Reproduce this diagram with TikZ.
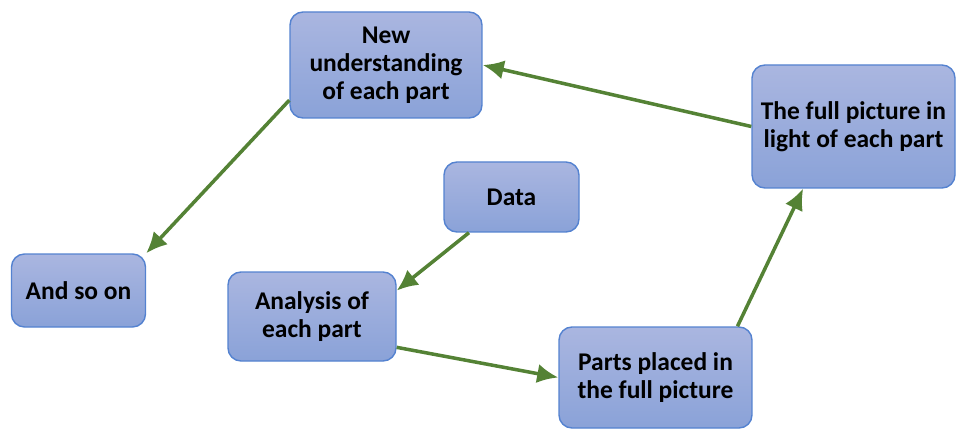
\documentclass[tikz,border=0pt]{standalone}
\usepackage{fontspec}
\setmainfont{Carlito}
\usepackage{tikz}
\usetikzlibrary{shapes.geometric, arrows.meta}
\definecolor{boxtop}{RGB}{170,182,224}
\definecolor{boxbot}{RGB}{138,162,216}
\definecolor{boxline}{RGB}{84,130,208}
\definecolor{arrowgreen}{RGB}{84,130,53}
\tikzstyle{block} = [draw=boxline, line width=0.8pt, top color=boxtop, bottom color=boxbot,
rectangle, rounded corners=0.26cm, align=center,
font=\fontsize{14.5}{16}\selectfont\bfseries]
\tikzstyle{link} = [draw=arrowgreen, line width=2pt, ->]

\begin{document}
\begin{tikzpicture}[auto, >={Latex[length=12pt,width=11pt]}]
	\useasboundingbox (0,0) rectangle (19.12,8.6);
	% We start by placing the blocks
	\node [block, minimum width=3.84cm, minimum height=2.12cm] (new) at (7.72,7.30) {New\\understanding\\of each part};
	\node [block, minimum width=4.06cm, minimum height=2.46cm] (full) at (17.07,6.07) {The full picture in\\light of each part};
	\node [block, minimum width=2.7cm, minimum height=1.4cm] (data) at (10.23,4.66) {Data};
	\node [block, minimum width=2.68cm, minimum height=1.46cm] (andso) at (1.57,2.79) {And so on};
	\node [block, minimum width=3.36cm, minimum height=1.78cm] (analysis) at (6.24,2.27) {Analysis of\\each part};
	\node [block, minimum width=3.86cm, minimum height=2.02cm] (parts) at (13.11,1.05) {Parts placed in\\the full picture};

	% Then the arrows round the loop
	\draw [link] (data.220) -- (analysis.17);
	\draw [link] (analysis.340) -- (parts.west);
	\draw [link] (parts.32) -- (full.231);
	\draw [link] (full.west) -- (new.east);
	\draw [link] (new.200) -- (andso.north east);
\end{tikzpicture}
\end{document}
